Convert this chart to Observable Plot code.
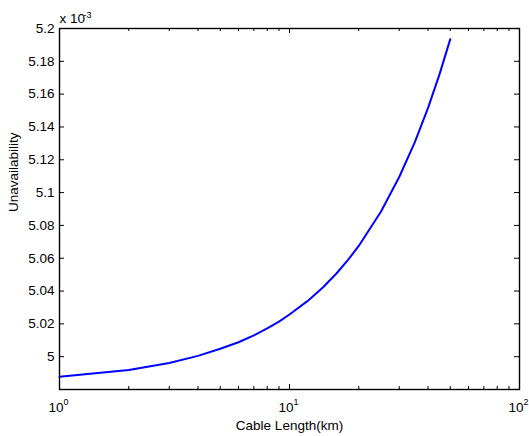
<!DOCTYPE html>
<html>
<head>
<meta charset="utf-8">
<script src="https://cdn.jsdelivr.net/npm/d3@7"></script>
<script src="https://cdn.jsdelivr.net/npm/@observablehq/plot@0.6"></script>
<style>
  html, body { margin: 0; padding: 0; background: white; }
  svg { display: block; }
</style>
</head>
<body>
<script>
// Cable length (km) and unavailability (x 10^-3)
const cableLength = [1, 2, 3, 4, 5, 6, 7, 8, 9, 10, 12, 14, 16, 18, 20, 25, 30, 35, 40, 45, 50];
const unavailability = [4.9878, 4.9919, 4.9962, 5.0005, 5.0048, 5.0088, 5.0130, 5.0172, 5.0214, 5.0257,
  5.0340, 5.0423, 5.0507, 5.0591, 5.0675, 5.0885, 5.1095, 5.1305, 5.1515, 5.1725, 5.1935];

const yTicks = [5, 5.02, 5.04, 5.06, 5.08, 5.1, 5.12, 5.14, 5.16, 5.18, 5.2];
const yTickLabels = ["5", "5.02", "5.04", "5.06", "5.08", "5.1", "5.12", "5.14", "5.16", "5.18", "5.2"];
const xMajorTicks = [1, 10, 100];
const xTickExponents = ["0", "1", "2"];
const xMinorTicks = [2, 3, 4, 5, 6, 7, 8, 9, 20, 30, 40, 50, 60, 70, 80, 90];

const xLabel = "Cable Length(km)";
const yLabel = "Unavailability";
const yExponentBase = "x 10";
const yExponent = "-3";

const data = cableLength.map((L, i) => ({L, U: unavailability[i]}));
const yTickData = yTicks.map((v, i) => ({v, label: yTickLabels[i]}));
const xTickData = xMajorTicks.map((v, i) => ({v, exp: xTickExponents[i]}));

const W = 529, H = 436, mL = 59, mR = 10, mT = 28, mB = 47;
const fw = W - mL - mR, fh = H - mT - mB;
const major = 5, minor = 3;

const chart = Plot.plot({
  width: W,
  height: H,
  marginLeft: mL,
  marginRight: mR,
  marginTop: mT,
  marginBottom: mB,
  style: {fontFamily: "'Liberation Sans', Arial, Helvetica, sans-serif", fontSize: "13.5px", background: "white", color: "black"},
  x: {type: "log", domain: [1, 100], axis: null},
  y: {domain: [4.98, 5.2], axis: null},
  marks: [
    // data line
    Plot.line(data, {x: "L", y: "U", stroke: "#0000ff", strokeWidth: 2}),
    // y ticks (left and right, inward)
    Plot.tickY(yTickData, {y: "v", insetRight: fw - major, stroke: "black", strokeWidth: 1}),
    Plot.tickY(yTickData, {y: "v", insetLeft: fw - major, stroke: "black", strokeWidth: 1}),
    // x major ticks (bottom and top, inward)
    Plot.tickX(xMajorTicks, {x: d => d, insetTop: fh - major, stroke: "black", strokeWidth: 1}),
    Plot.tickX(xMajorTicks, {x: d => d, insetBottom: fh - major, stroke: "black", strokeWidth: 1}),
    // x minor ticks
    Plot.tickX(xMinorTicks, {x: d => d, insetTop: fh - minor, stroke: "black", strokeWidth: 1}),
    Plot.tickX(xMinorTicks, {x: d => d, insetBottom: fh - minor, stroke: "black", strokeWidth: 1}),
    // frame
    Plot.frame({stroke: "black", strokeWidth: 1.4}),
    // y tick labels
    Plot.text(yTickData, {y: "v", text: "label", frameAnchor: "left", dx: -5, textAnchor: "end", fill: "black"}),
    // x tick labels: 10 with superscript exponent
    Plot.text(xTickData, {x: "v", text: () => "10", frameAnchor: "bottom", dy: 22, dx: 4, textAnchor: "end", lineAnchor: "bottom", fill: "black"}),
    Plot.text(xTickData, {x: "v", text: "exp", frameAnchor: "bottom", dy: 15, dx: 4, textAnchor: "start", lineAnchor: "bottom", fontSize: 9, fill: "black"}),
    // axis labels
    Plot.text([xLabel], {text: d => d, frameAnchor: "bottom", dy: 40, lineAnchor: "bottom", fill: "black"}),
    Plot.text([yLabel], {text: d => d, frameAnchor: "left", dx: -46, dy: 3, rotate: -90, fill: "black"}),
    // exponent multiplier
    Plot.text([yExponentBase], {text: d => d, frameAnchor: "top-left", dx: 0, dy: -6, textAnchor: "start", lineAnchor: "bottom", fill: "black"}),
    Plot.text([yExponent], {text: d => d, frameAnchor: "top-left", dx: 24, dy: -11, textAnchor: "start", lineAnchor: "bottom", fontSize: 9, fill: "black"})
  ]
});
document.body.appendChild(chart);
</script>
</body>
</html>
